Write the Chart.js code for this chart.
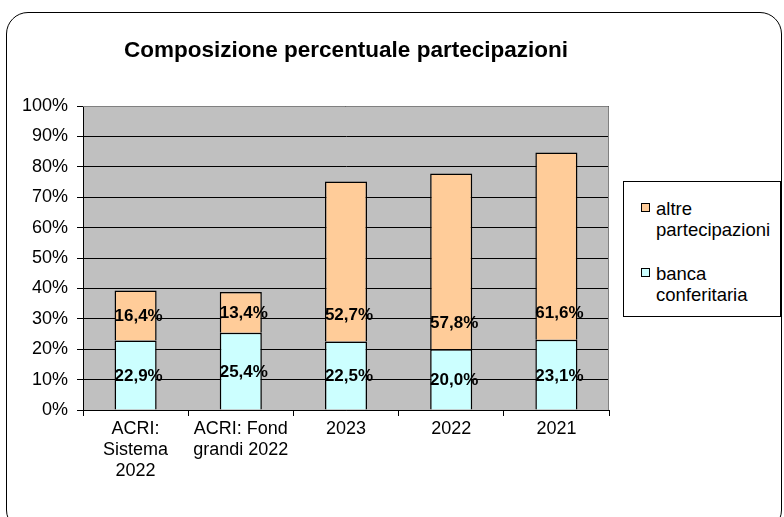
<!DOCTYPE html>
<html>
<head>
<meta charset="utf-8">
<script src="https://cdn.jsdelivr.net/npm/chart.js@4/dist/chart.umd.min.js"></script>
<style>
  body { margin: 0; background: #fff; font-family: Arial, "Liberation Sans", sans-serif; }
  #wrap { position: relative; width: 784px; height: 517px; overflow: hidden; }
  #frame { position: absolute; left: 6px; top: 12px; width: 776px; height: 520px;
           border: 1.5px solid #000; border-radius: 22px; box-sizing: border-box; }
  #legend { position: absolute; left: 623px; top: 181px; width: 158px; height: 136px;
            border: 1px solid #000; box-sizing: border-box; background: #fff;
            font-size: 18.5px; color: #000; }
  .item { position: absolute; left: 17px; line-height: 21px; }
  .sw { position: absolute; left: 0; top: 5px; width: 9px; height: 9px; border: 1px solid #000; box-sizing: border-box; }
  .txt { position: absolute; left: 15px; top: 0; white-space: nowrap; }
</style>
</head>
<body>
<div id="wrap">
  <canvas id="canvas" width="784" height="517"></canvas>
  <div id="frame"></div>
  <div id="legend"></div>
</div>
<script>
var chartTitle = 'Composizione percentuale partecipazioni';
var categories = [['ACRI:', 'Sistema', '2022'], ['ACRI: Fond', 'grandi 2022'], '2023', '2022', '2021'];
var bancaConferitaria = [22.9, 25.4, 22.5, 20.0, 23.1];
var altrePartecipazioni = [16.4, 13.4, 52.7, 57.8, 61.6];
var yTicks = [0, 10, 20, 30, 40, 50, 60, 70, 80, 90, 100];

var plotBg = {
  id: 'plotBg',
  beforeDraw: function(chart) {
    var a = chart.chartArea, ctx = chart.ctx;
    ctx.save();
    ctx.fillStyle = '#c0c0c0';
    ctx.fillRect(a.left, a.top, a.right - a.left, a.bottom - a.top);
    ctx.restore();
  },
  afterDatasetsDraw: function(chart) {
    var a = chart.chartArea, ctx = chart.ctx;
    ctx.save();
    ctx.strokeStyle = '#808080';
    ctx.lineWidth = 1;
    ctx.beginPath();
    ctx.moveTo(a.left, a.top + 0.5);
    ctx.lineTo(a.right - 0.5, a.top + 0.5);
    ctx.lineTo(a.right - 0.5, a.bottom);
    ctx.stroke();
    ctx.restore();
  },
  afterDraw: function(chart) {
    // title centred over the plot area, as in the original
    var a = chart.chartArea, ctx = chart.ctx;
    ctx.save();
    ctx.font = 'bold 22.5px Arial, "Liberation Sans"';
    ctx.fillStyle = '#000';
    ctx.textAlign = 'center';
    ctx.textBaseline = 'middle';
    ctx.fillText(chartTitle, (a.left + a.right) / 2, 51);
    ctx.restore();
  }
};

// value labels, bold, inside each segment
var valueLabels = {
  id: 'valueLabels',
  afterDatasetsDraw: function(chart) {
    var ctx = chart.ctx, y = chart.scales.y;
    ctx.save();
    ctx.font = 'bold 17px Arial, "Liberation Sans"';
    ctx.fillStyle = '#000';
    ctx.textAlign = 'center';
    ctx.textBaseline = 'middle';
    chart.data.datasets.forEach(function(ds, di) {
      var meta = chart.getDatasetMeta(di);
      meta.data.forEach(function(bar, i) {
        var base = di === 0 ? 0 : bancaConferitaria[i];
        var v = ds.data[i];
        var mid = base + v / 2;
        if (di === 1) mid = Math.min(mid, base + 9);
        ctx.fillText(v.toFixed(1).replace('.', ',') + '%', bar.x + 3, y.getPixelForValue(mid) + 1);
      });
    });
    ctx.restore();
  }
};

var ctx = document.getElementById('canvas').getContext('2d');
var chart = new Chart(ctx, {
  type: 'bar',
  data: {
    labels: categories,
    datasets: [{
      label: 'banca conferitaria',
      data: bancaConferitaria,
      backgroundColor: '#ccffff',
      borderColor: '#000',
      borderWidth: 1.5,
      barPercentage: 0.4,
      categoryPercentage: 1
    }, {
      label: 'altre partecipazioni',
      data: altrePartecipazioni,
      backgroundColor: '#ffcc99',
      borderColor: '#000',
      borderWidth: 1.5,
      barPercentage: 0.4,
      categoryPercentage: 1
    }]
  },
  options: {
    responsive: false,
    animation: false,
    layout: { padding: { left: 19, right: 175, top: 106, bottom: 0 } },
    plugins: {
      legend: { display: false },
      tooltip: { enabled: false },
      title: { display: false }
    },
    scales: {
      x: {
        stacked: true,
        grid: { display: true, drawOnChartArea: false, drawTicks: true, tickLength: 6, offset: true, color: '#000' },
        border: { color: '#000', width: 1 },
        ticks: { color: '#000', font: { family: 'Arial, "Liberation Sans"', size: 18, lineHeight: 1.15 }, padding: 3, maxRotation: 0, autoSkip: false },
        afterFit: function(s) { s.height = 107; }
      },
      y: {
        stacked: true,
        min: 0,
        max: 100,
        afterBuildTicks: function(s) { s.ticks = yTicks.map(function(v) { return { value: v }; }); },
        grid: { color: '#000', lineWidth: 1, tickLength: 6 },
        border: { color: '#000', width: 1 },
        ticks: { color: '#000', font: { family: 'Arial, "Liberation Sans"', size: 18 }, padding: 9,
                 callback: function(v) { return v + '%'; } },
        afterFit: function(s) { s.width = 64; }
      }
    }
  },
  plugins: [plotBg, valueLabels]
});

var legendItems = [
  { color: '#ffcc99', lines: ['altre', 'partecipazioni'], top: 16 },
  { color: '#ccffff', lines: ['banca', 'conferitaria'], top: 81 }
];
var lg = document.getElementById('legend');
legendItems.forEach(function(it) {
  var d = document.createElement('div');
  d.className = 'item';
  d.style.top = it.top + 'px';
  d.innerHTML = '<div class="sw" style="background:' + it.color + '"></div><div class="txt">' + it.lines.join('<br>') + '</div>';
  lg.appendChild(d);
});
</script>
</body>
</html>
